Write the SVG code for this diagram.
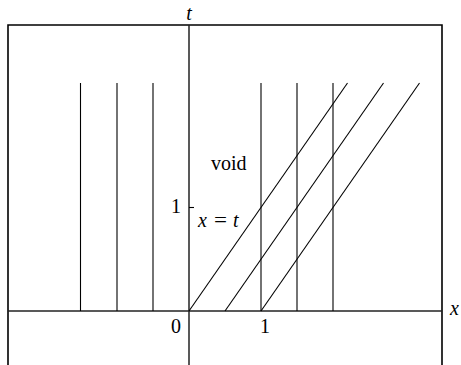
<svg xmlns="http://www.w3.org/2000/svg" width="461" height="365" viewBox="0 0 461 365">
<style>
.frame{fill:none;stroke:#000;stroke-width:1.6}
.axis{stroke:#222;stroke-width:1.5}
.ln{stroke:#000;stroke-width:1.1;fill:none}
</style>
<rect width="461" height="365" fill="#fff"/>
<g id="frame">
<polyline class="frame" points="8,366 8,25 442,25 442,366"/>
</g>
<g id="axes">
<line class="axis" x1="189" y1="25" x2="189" y2="366"/>
<line class="axis" x1="8" y1="311" x2="442" y2="311"/>
<line class="ln" x1="189" y1="207.5" x2="194" y2="207.5"/>
</g>
<g id="connectors">
<line class="ln" x1="80.5" y1="83" x2="80.5" y2="311"/>
<line class="ln" x1="117" y1="83" x2="117" y2="311"/>
<line class="ln" x1="153" y1="83" x2="153" y2="311"/>
<line class="ln" x1="261" y1="83" x2="261" y2="311"/>
<line class="ln" x1="297" y1="83" x2="297" y2="311"/>
<line class="ln" x1="333" y1="83" x2="333" y2="311"/>
<line class="ln" x1="189" y1="311" x2="347.5" y2="83"/>
<line class="ln" x1="225" y1="311" x2="383.5" y2="83"/>
<line class="ln" x1="261" y1="311" x2="419.5" y2="83"/>
</g>
<g id="labels">
<text font-family="Liberation Serif" font-size="20" font-style="italic" x="189" y="20" text-anchor="middle">t</text>
<text font-family="Liberation Serif" font-size="20" font-style="italic" x="450" y="315">x</text>
<text font-family="Liberation Serif" font-size="20" x="171" y="333">0</text>
<text font-family="Liberation Serif" font-size="20" x="260" y="333">1</text>
<text font-family="Liberation Serif" font-size="20" x="171" y="213">1</text>
<text font-family="Liberation Serif" font-size="20" x="211" y="170">void</text>
<text font-family="Liberation Serif" font-size="20" font-style="italic" x="198" y="227">x</text>
<text font-family="Liberation Serif" font-size="20" x="214" y="227" textLength="13" lengthAdjust="spacingAndGlyphs">=</text>
<text font-family="Liberation Serif" font-size="20" font-style="italic" x="233" y="227">t</text>
</g>
</svg>
